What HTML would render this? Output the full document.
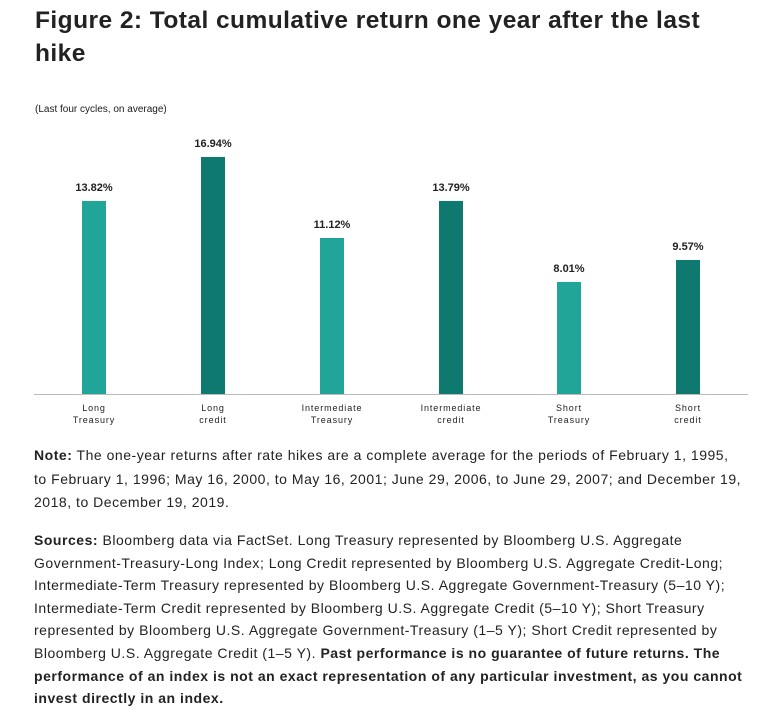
<!DOCTYPE html>
<html><head><meta charset="utf-8"><style>
html,body{margin:0;padding:0;background:#fff;}
body{width:763px;height:718px;position:relative;overflow:hidden;font-family:"Liberation Sans",sans-serif;color:#1a1a1a;}
.t{position:absolute;white-space:nowrap;}
.title{left:35px;font-size:24.5px;font-weight:bold;letter-spacing:0.45px;color:#222;}
.p{left:34px;font-size:14px;letter-spacing:0.52px;color:#222;}
.bar{position:absolute;width:24px;}
.l{background:#21a599;} .d{background:#0e7a6f;}
.v{position:absolute;width:100px;text-align:center;font-size:11px;font-weight:bold;color:#222;}
.c{position:absolute;width:120px;text-align:center;font-size:9px;letter-spacing:0.9px;line-height:12px;color:#222;}
</style></head><body>
<div class="t title" style="top:7px">Figure 2: Total cumulative return one year after the last</div>
<div class="t title" style="top:40px">hike</div>
<div class="t" style="left:35px;top:104px;font-size:10px;">(Last four cycles, on average)</div>

<div style="position:absolute;left:34px;top:394px;width:714px;height:1px;background:#bbb"></div>

<div class="bar l" style="left:82px;top:201px;height:193px"></div>
<div class="bar d" style="left:201px;top:157px;height:237px"></div>
<div class="bar l" style="left:320px;top:238px;height:156px"></div>
<div class="bar d" style="left:439px;top:201px;height:193px"></div>
<div class="bar l" style="left:557px;top:282px;height:112px"></div>
<div class="bar d" style="left:676px;top:260px;height:134px"></div>

<div class="v" style="left:44px;top:182px">13.82%</div>
<div class="v" style="left:163px;top:138px">16.94%</div>
<div class="v" style="left:282px;top:219px">11.12%</div>
<div class="v" style="left:401px;top:182px">13.79%</div>
<div class="v" style="left:519px;top:263px">8.01%</div>
<div class="v" style="left:638px;top:241px">9.57%</div>

<div class="c" style="left:34px;top:402px">Long<br>Treasury</div>
<div class="c" style="left:153px;top:402px">Long<br>credit</div>
<div class="c" style="left:272px;top:402px">Intermediate<br>Treasury</div>
<div class="c" style="left:391px;top:402px">Intermediate<br>credit</div>
<div class="c" style="left:509px;top:402px">Short<br>Treasury</div>
<div class="c" style="left:628px;top:402px">Short<br>credit</div>

<div class="t p" style="top:447px"><b>Note:</b> The one-year returns after rate hikes are a complete average for the periods of February 1, 1995,</div>
<div class="t p" style="top:471px">to February 1, 1996; May 16, 2000, to May 16, 2001; June 29, 2006, to June 29, 2007; and December 19,</div>
<div class="t p" style="top:494px">2018, to December 19, 2019.</div>

<div class="t p" style="top:532px"><b>Sources:</b> Bloomberg data via FactSet. Long Treasury represented by Bloomberg U.S. Aggregate</div>
<div class="t p" style="top:555px">Government-Treasury-Long Index; Long Credit represented by Bloomberg U.S. Aggregate Credit-Long;</div>
<div class="t p" style="top:577px">Intermediate-Term Treasury represented by Bloomberg U.S. Aggregate Government-Treasury (5–10 Y);</div>
<div class="t p" style="top:600px">Intermediate-Term Credit represented by Bloomberg U.S. Aggregate Credit (5–10 Y); Short Treasury</div>
<div class="t p" style="top:622px">represented by Bloomberg U.S. Aggregate Government-Treasury (1–5 Y); Short Credit represented by</div>
<div class="t p" style="top:645px">Bloomberg U.S. Aggregate Credit (1–5 Y). <b>Past performance is no guarantee of future returns. The</b></div>
<div class="t p" style="top:668px"><b>performance of an index is not an exact representation of any particular investment, as you cannot</b></div>
<div class="t p" style="top:690px"><b>invest directly in an index.</b></div>
</body></html>
